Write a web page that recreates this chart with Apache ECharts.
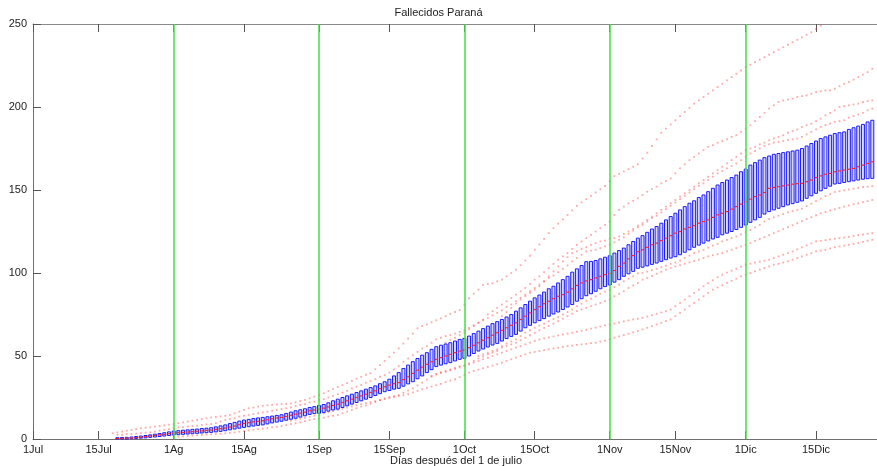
<!DOCTYPE html>
<html><head><meta charset="utf-8">
<script src="https://cdn.jsdelivr.net/npm/echarts@6/dist/echarts.min.js"></script>
<style>html,body{margin:0;padding:0;background:#fff}#c{width:877px;height:466px}</style>
</head><body><div id="c"></div><script>
// day index: 0 = 1 de julio
const FIRST_DAY = 18;
const q3 = [
0.8,0.9,1.0,1.2,1.5,1.8,2.1,2.5,2.9,3.3,
3.8,4.3,4.8,5.0,5.3,5.5,5.8,6.0,6.3,6.5,
6.8,7.3,7.9,8.5,9.3,10.0,10.8,11.4,11.8,12.3,
12.7,13.0,13.4,13.8,14.2,14.6,15.4,16.2,17.0,17.6,
18.2,19.0,19.5,20.2,20.8,21.8,23.0,24.0,25.0,26.0,
27.0,28.0,29.0,30.0,31.0,32.0,33.3,34.5,36.0,38.0,
40.0,42.5,44.5,46.6,48.5,50.5,52.0,54.0,55.6,56.5,
57.2,58.0,59.0,60.0,60.6,62.0,63.5,65.0,66.5,68.0,
69.5,70.7,72.0,73.5,75.0,77.0,79.0,81.0,83.0,85.0,
86.7,88.5,90.5,92.0,94.0,96.0,98.0,100.5,102.5,104.5,
106.8,107.0,107.5,108.5,109.5,110.4,112.0,113.5,115.0,117.0,
119.0,121.0,122.5,124.5,126.5,128.0,130.0,132.0,134.0,136.0,
138.0,140.0,142.0,143.5,145.5,147.0,149.0,151.0,153.0,154.5,
156.0,157.5,159.0,161.0,162.6,165.0,166.5,168.0,169.5,170.5,
171.5,172.0,172.5,173.0,173.5,174.0,175.0,176.5,178.0,179.5,
181.0,182.0,183.0,184.0,184.5,185.0,186.5,187.5,188.5,189.5,
191.0,192.0];
const med = [
0.3,0.4,0.5,0.6,0.8,1.1,1.4,1.8,2.1,2.5,
2.8,3.2,3.6,3.8,4.0,4.2,4.4,4.7,4.9,5.2,
5.4,5.8,6.2,6.6,7.2,7.8,8.6,9.4,9.8,10.3,
10.7,11.0,11.6,12.2,12.7,13.0,13.6,14.3,15.0,15.6,
16.2,17.0,17.5,18.0,18.6,19.3,20.2,21.0,22.0,23.0,
24.0,25.0,26.0,27.0,28.0,29.0,30.3,31.5,32.5,33.3,
34.0,35.8,37.5,39.5,41.5,43.3,45.0,46.5,48.0,49.0,
50.0,51.0,52.0,53.0,53.6,55.0,56.5,58.0,59.5,61.0,
62.5,64.0,65.5,67.0,68.5,70.0,72.0,74.0,76.0,78.0,
79.7,81.5,83.0,84.5,86.0,87.0,88.5,90.5,92.5,94.0,
95.2,96.0,97.0,98.0,99.0,99.8,101.5,104.0,106.0,108.5,
110.5,112.8,114.0,115.5,117.0,118.0,119.5,121.0,122.5,124.0,
125.0,126.5,127.5,128.5,130.0,131.0,132.0,133.5,135.0,136.0,
137.0,138.5,140.0,141.5,142.8,144.5,146.0,147.0,148.5,151.0,
151.5,152.0,152.5,153.0,153.5,153.8,154.0,155.0,156.0,157.5,
158.5,159.5,160.0,161.0,161.5,162.0,162.5,163.0,164.0,165.0,
166.0,167.0];
const q1 = [
0,0,0,0.2,0.3,0.5,0.7,1.0,1.2,1.5,
1.8,2.1,2.4,2.6,2.8,3.0,3.2,3.4,3.6,3.8,
4.0,4.3,4.6,5.0,5.5,6.0,6.5,7.0,7.4,7.8,
8.2,8.5,9.1,9.7,10.2,10.7,11.3,11.9,12.5,13.2,
14.0,14.8,15.3,15.5,16.0,16.8,17.5,18.0,19.0,20.0,
21.0,22.0,23.0,24.0,25.0,26.2,27.3,28.5,29.2,30.0,
30.5,31.8,33.2,34.5,36.3,38.0,40.0,41.8,43.6,44.5,
45.3,46.0,47.0,48.0,48.6,50.0,51.5,53.0,54.2,55.4,
56.6,57.6,59.0,60.5,61.8,63.0,65.0,67.0,68.5,70.0,
71.3,72.5,74.0,75.3,76.5,78.0,79.5,81.0,83.0,84.5,
86.3,87.5,89.0,90.5,91.8,92.8,94.5,96.0,98.0,99.5,
101.0,102.8,103.5,104.3,105.2,106.0,107.0,108.0,109.0,109.8,
111.0,112.5,114.0,115.5,116.8,118.0,119.3,120.5,121.5,123.0,
124.0,125.0,126.2,127.5,128.9,130.5,132.0,133.5,135.5,137.0,
138.0,139.0,140.0,141.0,141.8,142.6,143.4,145.0,146.5,148.0,
149.5,151.0,152.3,153.6,154.0,154.5,155.0,155.5,156.0,156.5,
156.8,157.0];

// simulated runs whose values fall outside the box (red dots)
const runA_start = 17;
const runA = [
3.5,4,4.5,5,5.5,6,6.5,6.8,7,7.4,
7.8,8.2,8.6,9,9.5,10,10.5,11,11.5,12,
12.5,13,13.3,13.6,14,14.5,15.5,16.5,17.5,18.5,
19,19.5,20,20.3,20.5,20.8,21,21.2,21.4,22,
22.8,23.6,24.5,25.5,26.5,27.5,28.8,30,31.3,32.5,
33.7,35,36.3,37.5,38.7,39.6,42,44.5,47,49.5,
52,54.6,57.5,60.5,63.5,66.7,68,69,70.3,71.5,
72.7,74,75.3,76.5,77.7,81,84.8,87.5,90,92.8,
93.3,93.8,95,96,98,100,102,104.7,107.5,110.4,
114,117.2,120.5,124,127,129.7,132.3,135,137.7,140.4,
142.5,144.5,146.5,148.5,150.5,152.4,155.4,158.4,159.8,161.2,
162.6,164,165.5,169,172.5,176.5,180.5,184.5,187,189.5,
192,194.5,197,199.5,202,204,206,208,210,212,
214,216,218,220,222,224,225.5,227,228.5,230,
231.5,233,234.5,236,237.5,239,240.5,242,243.5,245,
247,249,251,253];
const runB_start = 88;
const runB = [
58,59.5,61,62.5,64,66,68,70,72,75,
77,79,81,83,85,87,89,91,93.5,96,
98,100.5,103,105.5,108,110,112,114.5,117,119,
121,123,125,127,129,131,135,138,140,142,
143.5,145,147,149,150.5,152,154,155.5,157,160,
163,165.5,168,170,172,174,176,177,178.5,179.5,
180.5,182,183,185,187,189,191.5,194,196.5,199,
201,203,204,204.5,205,206,206.5,207,208,209,
209.5,210,210,211,212.5,214,215,216.5,218,219.5,
221,223];
const runC_start = 100;
const runC = [
74,76.5,79,81.5,84,86,88,90,92,95,
98,101,104,107,109.5,112,113,114.5,115.5,117,
118,119,119.5,120.5,121,122,123.5,125,126.5,128.5,
130,132,134,136,138,140,142,144,146,148,
150,152,154,156,158,160,162,164,166,168,
170,172,174,175,176,177.5,178.5,180,181,182,
183,184.5,185.5,186.5,188,189,190,191.5,193,195,
196.5,198,200,200.5,201,201.5,202,203,203.5,204];
const runD_start = 18;
const runD = [
2.5,2.5,3,3,3.2,3.5,3.8,4,4.5,5,
5.5,6,6.5,7,7.2,7.5,7.8,8,8.5,8.8,
9,9.5,10.5,11.5,12,12.5,13.5,14,14.5,15,
15.5,16,16.5,17,17.5,18,18.5,19,20,20.5,
21,22,22.5,23.5,24,25,26,27,28,29,
30.5,31.5,32.5,34,35,36,37.5,38.5,40,42,
44,46.5,48.5,50.5,52.5,54.5,56,58,60,61,
62,62.5,63.5,64.5,65.5,67,68.5,70,71.5,73,
74.5,76,77.5,79.5,81,83,85,87,89,91,
93,95,97,98.5,100.5,102.5,104.5,107,109,111,
113,113.5,114,115,116,117,118.5,120,121.5,123.5,
125.5,127.5,129,131,133,134.5,136.5,138.5,140.5,142.5,
144.5,146.5,148.5,150.5,152.5,154,156,158,160,161.5,
163,164.5,166,168,170,172,173.5,175,176.5,177.5,
178.5,179,179.5,180,180.5,181,182,183.5,185,186.5,
188,189,190,191,191.5,192,193.5,194.5,195.5,196.5,
198,199];
const runE_start = 55;
const runE = [
11,11.6,12.2,12.8,13.4,14,14.7,15.4,16.1,16.8,
17.5,18.2,18.9,19.6,20.3,21,21.6,22.2,22.8,23.4,
24,24.6,25.2,25.8,26.4,27,28,29,30,30.8,
31.6,32.4,33.2,34.2,35.2,36,37.3,38.6,40,41,
41.8,42.6,43.4,44.2,45,46,47,48,49,50,
51,52,52.5,53,53.5,54,54.5,55,55.5,56,
56.3,56.7,57,57.3,57.7,58,58.7,59.3,60,61,
61.8,62.6,63.4,64.2,65,66,67,68,69,70,
71,72,74,76,78,80,82,84,86,88,
90,91.3,92.6,94,95.3,96.6,98,99,100,101,
102,103,104,105,105.5,106.3,107,108,109,110,
111,112,113,113.5,114,114.8,115.5,116,116.5,117,
117.5,118,118.8,119.4,120];
const runF_start = 95;
const runF = [
50,51,52,53,54,55,56,57,58,59.5,
61,62.5,64,65.5,67,68,69.5,71,72.5,74,
75.5,77,78,79,80,81,82,83,84,86,
87.5,89,91,92.5,94,96,97,98.3,99.5,100.7,
102,103,104,104.8,105.6,106.4,107.2,108,109,110,
110.7,111.4,112,113,114,115,116,117,118,119.3,
120.5,121.6,122.8,124,125.2,126.4,127.6,128.8,130,131.2,
132.4,133.6,134.8,136,136.8,137.6,138.4,139.2,140,140.7,
141.4,142,142.7,143.3,144];
const runG_start = 85;
const runG = [
38,38.8,39.7,40.5,41.4,42.3,43.1,44,45,46,
47,48,49,50,51,52,53,54,55,56,
57,58,59,60,60.6,61.2,61.8,62.4,63,63.5,
64,64.6,65.2,65.8,66.5,67.1,67.8,68.4,69,69.6,
70.2,70.8,71.4,72,72.5,73,73.8,74.6,75.4,76.2,
77,78,80,82,84,86,88,90,92,93.8,
95.6,97.4,99,100.2,101.4,102.6,103.8,105,105.6,106.2,
106.8,107.4,108,109,110,111,112,113,114.2,115.4,
116.6,117.8,119,119.4,119.8,120.2,120.6,121,121.4,121.8,
122.3,122.8,123.2,123.6,124];
const runH_start = 30;
const runH = [
1.2,1.4,1.6,1.8,2,2.2,2.4,2.6,2.8,3,
3.2,3.4,3.7,4,4.4,4.8,5.2,5.6,6,6.2,
6.6,7,7.4,7.8,8.4,9,9.5,10,10.8,11.5,
12,12.3,12.8,13.5,14,14.5,15.5,16.5,17.5,18.5,
19.5,20.3,21.2,22.3,23.4,24.5,25.3,26,26.5,27.8,
29.2,30.5,32.3,34,35.8,37.5,39.3,40.2,41,41.8,
42.8,43.8,44.4,45.6,47,48.5,49.7,51,52,53,
56,57.5,58.8,60,62,64,65.5,67,68.3,69.5,
71,72.3,73.5,75,76.5,78,80,81.5,83.3,84.5,
86,87.5,88.8,89.8,91.5,93,95,96.5,98,99.8,
100,100.8,101.7,102.5,103.5,104.5,105.5,106.3,107.5,109,
110.5,112,113,114,115.3,116.5,117.5,119,120,121,
122,123.3,124.5,126,127.5,129,131,132.5,133.5,134.5,
135.5,136.5,137.3,138,138.8,140.3,141.8,143.3,144.8,146.3,
147.5,148.8,149.3,149.8,150.3,150.8,151.3,151.8,152,152.3];

const tickPos = [0,14,30,45,61,76,92,107,123,137,152,167];
const tickLabels = ['1Jul','15Jul','1Ag','15Ag','1Sep','15Sep','1Oct','15Oct','1Nov','15Nov','1Dic','15Dic'];
const monthStarts = [30,61,92,123,152];

// build data
const boxData = q3.map((v,i)=>[FIRST_DAY+i, q1[i], med[i], v]);
const runs = [[runA_start,runA],[runB_start,runB],[runC_start,runC],[runD_start,runD],
              [runE_start,runE],[runF_start,runF],[runG_start,runG],[runH_start,runH]];
const outliers = [];
runs.forEach(([s,arr])=>{
  arr.forEach((v,k)=>{
    const d = s+k, i = d-FIRST_DAY;
    if (v>250 || v<0) return;
    if (i>=0 && i<q3.length) {
      if (v>q3[i] || v<q1[i]) outliers.push([d,v]);
    } else outliers.push([d,v]);
  });
});

const FONT = "'Liberation Sans', Arial, sans-serif";
const chart = echarts.init(document.getElementById('c'), null, {renderer:'canvas'});
const xCommon = {
  type:'value', min:0, max:180,
  splitLine:{show:false},
  axisLine:{lineStyle:{color:'#707070', width:1}},
  axisTick:{customValues:tickPos, inside:true, length:8, lineStyle:{color:'#555', width:1}}
};
chart.setOption({
  animation:false,
  backgroundColor:'#fff',
  title:{text:'Fallecidos Paraná', left:'center', top:2,
    textStyle:{fontFamily:FONT, fontSize:11, fontWeight:'normal', color:'#222'}},
  grid:{left:33, top:24, width:845, height:415},
  xAxis:[
    Object.assign({}, xCommon, {position:'bottom',
      axisLabel:{customValues:tickPos, margin:5, fontFamily:FONT, fontSize:11, color:'#222',
        formatter:v=>{const k=tickPos.indexOf(v); return k>=0?tickLabels[k]:'';}}}),
    Object.assign({}, xCommon, {position:'top', axisLabel:{show:false},
      axisLine:{lineStyle:{color:'#8a8a8a', width:1}}})
  ],
  yAxis:{type:'value', min:0, max:250, interval:50,
    splitLine:{show:false},
    axisLine:{show:true, lineStyle:{color:'#707070'}},
    axisTick:{inside:true, length:8, lineStyle:{color:'#555'}},
    axisLabel:{margin:6, fontFamily:FONT, fontSize:11, color:'#222'}},
  graphic:[{type:'text', left:460-70, top:455,
    style:{text:'Días después del 1 de julio', font:'11px '+FONT, fill:'#222', width:140, align:'center'}}],
  series:[
    {type:'scatter', data:outliers, symbol:'rect', symbolSize:1.8,
     itemStyle:{color:'rgba(255,40,40,0.5)'}, silent:true, z:2},
    {type:'custom', data:boxData, z:3, silent:true,
     renderItem:function(params, api){
       const x = api.value(0);
       const b = api.coord([x, api.value(1)]);
       const t = api.coord([x, api.value(3)]);
       const m = api.coord([x, api.value(2)]);
       const w = 3;
       return {type:'group', children:[
         {type:'rect', shape:{x:b[0]-w/2, y:t[1], width:w, height:Math.max(b[1]-t[1],0.8)},
          style:{fill:'rgba(150,150,255,0.4)', stroke:'#1a1aff', lineWidth:1}},
         {type:'line', shape:{x1:m[0]-w/2, y1:m[1], x2:m[0]+w/2, y2:m[1]},
          style:{stroke:'#ff2020', lineWidth:1.2}}
       ]};
     }},
    {type:'scatter', data:[], z:5, silent:true,
     markLine:{silent:true, symbol:['none','none'], label:{show:false},
       lineStyle:{color:'#3ee03e', width:1.5, type:'solid'},
       data:monthStarts.map(v=>({xAxis:v}))}}
  ]
});
</script></body></html>
